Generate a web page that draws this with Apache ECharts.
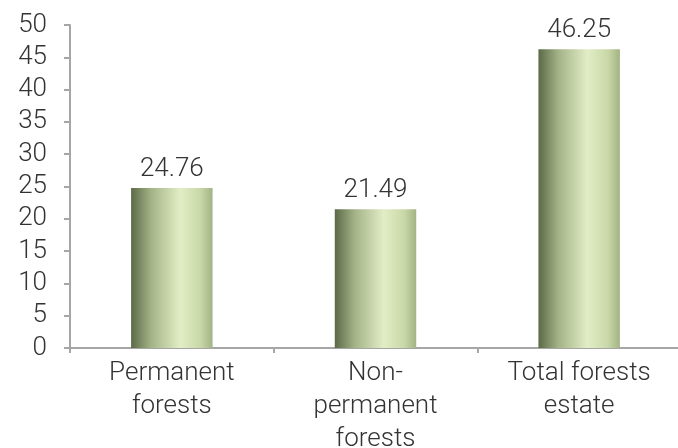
<!DOCTYPE html>
<html><head><meta charset="utf-8">
<script src="https://cdn.jsdelivr.net/npm/echarts@6/dist/echarts.min.js"></script>
<style>html,body{margin:0;padding:0;background:#fff}#c{width:678px;height:448px}</style>
</head><body><div id="c"></div>
<script>
const categories = ["Permanent\nforests", "Non-\npermanent\nforests", "Total forests\nestate"];
const values = [24.76, 21.49, 46.25];
const yMin = 0, yMax = 50, yInterval = 5;

const chart = echarts.init(document.getElementById('c'));
const font = 'Roboto';
const barColor = new echarts.graphic.LinearGradient(0, 0, 1, 0, [
  {offset: 0, color: '#5b6a47'},
  {offset: 0.25, color: '#a5b488'},
  {offset: 0.6, color: '#e2edc6'},
  {offset: 0.85, color: '#c9d8a8'},
  {offset: 1, color: '#a3b384'}
]);
chart.setOption({
  animation: false,
  grid: {left: 70, right: -3, top: 25, bottom: 100, containLabel: false, outerBoundsMode: 'none'},
  xAxis: {
    type: 'category', data: categories,
    axisLine: {lineStyle: {color: '#a6a6a6', width: 2}},
    axisTick: {show: true, length: 5, lineStyle: {color: '#a6a6a6', width: 2}},
    axisLabel: {color: '#333', fontSize: 26, fontFamily: font, fontWeight: 300, lineHeight: 33, margin: 9, interval: 0}
  },
  yAxis: {
    type: 'value', min: yMin, max: yMax, interval: yInterval,
    splitLine: {show: false},
    axisLine: {show: true, lineStyle: {color: '#a6a6a6', width: 2}},
    axisTick: {show: true, length: 6, lineStyle: {color: '#a6a6a6', width: 2}},
    axisLabel: {color: '#333', fontSize: 26, fontFamily: font, fontWeight: 300, margin: 23}
  },
  series: [{
    type: 'bar', data: values, barWidth: '40%',
    itemStyle: {color: barColor},
    label: {show: true, position: 'top', distance: 6, color: '#333', fontSize: 26, fontFamily: font, fontWeight: 300}
  }]
});
</script></body></html>
